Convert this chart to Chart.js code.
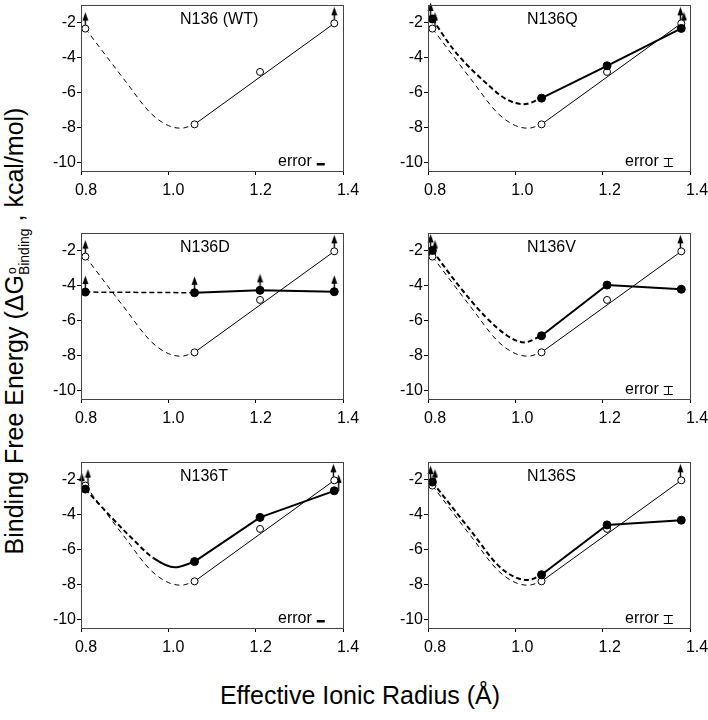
<!DOCTYPE html>
<html>
<head>
<meta charset="utf-8">
<script src="https://cdn.jsdelivr.net/npm/chart.js@4.4.1/dist/chart.umd.min.js"></script>
<style>
  body { margin: 0; width: 708px; height: 720px; position: relative; overflow: hidden; background: #fff;
         font-family: "Liberation Sans", Arial, sans-serif; color: #000; }
  canvas { position: absolute; }
  #ytitle { position: absolute; left: 15px; top: 331px; white-space: nowrap; font-size: 25px;
            transform: translate(-50%, -50%) rotate(-90deg); }
  #ytitle .ss { display: inline-block; vertical-align: -6px; line-height: 12px; font-size: 14px; text-align: left; }
  #ytitle .ss span { display: block; }
  #ytitle .deg { font-size: 12px; padding-left: 1px; }
  #xtitle { position: absolute; left: 360px; top: 695px; white-space: nowrap; font-size: 25px;
            transform: translate(-50%, -50%); }
</style>
</head>
<body>
<div id="ytitle">Binding Free Energy (ΔG<span class="ss"><span class="deg">o</span><span>Binding</span></span> , kcal/mol)</div>
<div id="xtitle">Effective Ionic Radius (Å)</div>
<canvas id="c0" width="335" height="201" style="left:30px;top:0px"></canvas>
<canvas id="c1" width="333" height="201" style="left:375px;top:0px"></canvas>
<canvas id="c2" width="335" height="201" style="left:30px;top:228px"></canvas>
<canvas id="c3" width="333" height="201" style="left:375px;top:228px"></canvas>
<canvas id="c4" width="335" height="201" style="left:30px;top:457px"></canvas>
<canvas id="c5" width="333" height="201" style="left:375px;top:457px"></canvas>
<script>
// ionic radius of the four ions, and axis ticks
const radius = [0.81, 1.06, 1.21, 1.38];
const xTicks = [0.8, 1.0, 1.2, 1.4];
const yTicks = [-10, -8, -6, -4, -2];
const panelTitles = ['N136 (WT)', 'N136Q', 'N136D', 'N136V', 'N136T', 'N136S'];

// wild type (open circles), repeated in every panel
const wtEnergy = [-2.35, -7.83, -4.83, -2.05];
const wtFitX = [1.06, 1.38];
const wtFitY = [-7.83, -2.05];
const wtCurveX = [0.81, 0.9, 0.96, 1.0, 1.03, 1.06];
const wtCurveY = [-2.35, -5.3, -7.2, -7.9, -8.05, -7.83];
const wtArrowX = [0.81, 1.38];
const refArrowX = [0.816, 1.378];
const refArrowY = [-2.35, -2.05];

// mutants (filled circles)
const qEnergy = [-1.8, -6.33, -4.48, -2.34];
const qCurveX = [0.81, 0.86, 0.93, 0.98, 1.02, 1.06];
const qCurveY = [-1.8, -3.6, -5.4, -6.4, -6.68, -6.33];
const qArrowX = [0.806, 1.386];
const qArrowY = [-1.8, -2.34];

const dEnergy = [-4.38, -4.42, -4.28, -4.36];
const dCurveX = [0.81, 1.06];
const dCurveY = [-4.38, -4.42];
const dArrowX = [0.81, 1.06, 1.21, 1.38];

const vEnergy = [-2.0, -6.88, -3.98, -4.22];
const vCurveX = [0.81, 0.87, 0.93, 0.98, 1.02, 1.06];
const vCurveY = [-2.0, -4.0, -5.75, -6.85, -7.26, -6.88];
const vArrowX = [0.806];
const vArrowY = [-2.0];

const tEnergy = [-2.55, -6.7, -4.17, -2.65];
const tCurveX = [0.81, 0.867, 0.92, 0.966, 1.015, 1.06];
const tCurveY = [-2.55, -4.1, -5.45, -6.5, -7.03, -6.7];
const tArrowX = [0.802, 1.39];
const tArrowY = [-2.55, -2.65];

const sEnergy = [-2.15, -7.45, -4.6, -4.33];
const sCurveX = [0.81, 0.9, 0.96, 1.0, 1.03, 1.06];
const sCurveY = [-2.15, -5.0, -6.9, -7.6, -7.75, -7.45];
const sArrowX = [0.806];
const sArrowY = [-2.15];

Chart.defaults.font.family = '"Liberation Sans", Arial, sans-serif';
Chart.defaults.font.size = 16;
Chart.defaults.color = '#000';

function xy(xs, ys) {
  return xs.map((x, i) => ({ x: x, y: ys[i] }));
}

// small upward arrow (lower-limit marker), base at the image centre
function makeArrow() {
  const c = document.createElement('canvas');
  c.width = 7; c.height = 34;
  const g = c.getContext('2d');
  g.strokeStyle = '#000'; g.lineWidth = 1.4;
  g.beginPath(); g.moveTo(3.5, 17); g.lineTo(3.5, 6); g.stroke();
  g.fillStyle = '#000';
  g.beginPath(); g.moveTo(3.5, 0.5); g.lineTo(0.5, 9); g.lineTo(6.5, 9); g.closePath(); g.fill();
  return c;
}
const arrowImg = makeArrow();

const decor = {
  id: 'decor',
  afterDraw(chart, args, opts) {
    const ctx = chart.ctx, a = chart.chartArea;
    ctx.save();
    ctx.strokeStyle = '#444'; ctx.lineWidth = 1;
    ctx.strokeRect(Math.round(a.left) + 0.5, Math.round(a.top) + 0.5,
                   Math.round(a.right - a.left), Math.round(a.bottom - a.top));
    ctx.fillStyle = '#000';
    ctx.font = '16px "Liberation Sans", Arial, sans-serif';
    ctx.textAlign = 'left'; ctx.textBaseline = 'middle';
    ctx.fillText(opts.title, a.left + 99, a.top + 15);
    if (opts.err) {
      const x = a.left + 197, y = a.bottom - 9;
      ctx.fillText('error', x, y);
      const sx = x + ctx.measureText('error').width + 5;
      if (opts.err === 'bar') {
        ctx.fillRect(sx, y + 1, 8, 2.5);
      } else {
        ctx.lineWidth = 1; ctx.strokeStyle = '#000';
        ctx.beginPath();
        ctx.moveTo(sx, Math.round(y - 4) + 0.5); ctx.lineTo(sx + 9, Math.round(y - 4) + 0.5);
        ctx.moveTo(sx, Math.round(y + 4) + 0.5); ctx.lineTo(sx + 9, Math.round(y + 4) + 0.5);
        ctx.moveTo(Math.round(sx + 4) + 0.5, y - 4); ctx.lineTo(Math.round(sx + 4) + 0.5, y + 4);
        ctx.stroke();
      }
    }
    ctx.restore();
  }
};

function buildPanel(id, col, p) {
  const datasets = [
    { data: xy(wtCurveX, wtCurveY), borderColor: '#000', borderWidth: 1, borderDash: [5, 4],
      pointRadius: 0, cubicInterpolationMode: 'monotone', order: 3 },
    { data: xy(wtFitX, wtFitY), borderColor: '#000', borderWidth: 1, pointRadius: 0, order: 3 },
    { data: xy(radius, wtEnergy), showLine: false, pointRadius: 3.5, pointBackgroundColor: '#fff',
      pointBorderColor: '#000', pointBorderWidth: 1, order: 1 },
    { data: xy(p.refArrowX, refArrowY), showLine: false, pointStyle: arrowImg, clip: false, order: 5 }
  ];
  if (p.energy) {
    const solidFrom = p.solidFrom;
    datasets.push(
      { data: xy(p.curveX, p.curveY), borderColor: '#000', borderWidth: p.curveWidth || 2,
        borderDash: [5, 3], pointRadius: 0, cubicInterpolationMode: 'monotone', order: 2,
        segment: { borderDash: ctx => (solidFrom && ctx.p0.parsed.x >= solidFrom) ? [] : [5, 3] } },
      { data: xy(radius.slice(1), p.energy.slice(1)), borderColor: '#000', borderWidth: 2,
        pointRadius: 0, order: 2 },
      { data: xy(radius, p.energy), showLine: false, pointRadius: 4, pointBackgroundColor: '#000',
        pointBorderColor: '#000', pointBorderWidth: 1, order: 0 },
      { data: xy(p.arrowX, p.arrowY), showLine: false, pointStyle: arrowImg, clip: false, order: 5 }
    );
  }
  const gridOpts = { display: true, drawOnChartArea: false, drawTicks: true, tickLength: 4, color: '#000' };
  const noPad = s => { s.paddingTop = 0; s.paddingBottom = 0; s.paddingLeft = 0; s.paddingRight = 0; };
  new Chart(document.getElementById(id), {
    type: 'line',
    data: { datasets: datasets },
    options: {
      responsive: false,
      animation: false,
      events: [],
      devicePixelRatio: 1,
      layout: { padding: { top: 3, right: col.padRight, left: 0, bottom: 0 } },
      plugins: { legend: { display: false }, tooltip: { enabled: false },
                 decor: { title: p.title, err: p.err } },
      scales: {
        x: {
          type: 'linear', min: 0.8, max: 1.4,
          afterBuildTicks: s => { s.ticks = xTicks.map(v => ({ value: v })); },
          afterFit: s => { s.height = 30; noPad(s); },
          ticks: { callback: v => v.toFixed(1), labelOffset: col.labelOffset, padding: 6,
                   maxRotation: 0, autoSkip: false },
          grid: gridOpts,
          border: { display: true, color: '#000', width: 1 }
        },
        y: {
          type: 'linear', min: -10.5, max: -1,
          afterBuildTicks: s => { s.ticks = yTicks.map(v => ({ value: v })); },
          afterFit: s => { s.width = col.yWidth; noPad(s); },
          ticks: { callback: v => String(v), padding: 1 },
          grid: gridOpts,
          border: { display: true, color: '#000', width: 1 }
        }
      }
    },
    plugins: [decor]
  });
}

const leftCol = { yWidth: 51, padRight: 22, labelOffset: 5 };
const rightCol = { yWidth: 53, padRight: 18, labelOffset: 7 };

buildPanel('c0', leftCol, { title: panelTitles[0], err: 'bar', refArrowX: wtArrowX });
buildPanel('c1', rightCol, { title: panelTitles[1], err: 'ibeam', refArrowX: refArrowX,
  energy: qEnergy, curveX: qCurveX, curveY: qCurveY, arrowX: qArrowX, arrowY: qArrowY });
buildPanel('c2', leftCol, { title: panelTitles[2], err: null, refArrowX: wtArrowX,
  energy: dEnergy, curveX: dCurveX, curveY: dCurveY, curveWidth: 1.5, arrowX: dArrowX, arrowY: dEnergy });
buildPanel('c3', rightCol, { title: panelTitles[3], err: 'ibeam', refArrowX: refArrowX,
  energy: vEnergy, curveX: vCurveX, curveY: vCurveY, arrowX: vArrowX, arrowY: vArrowY });
buildPanel('c4', leftCol, { title: panelTitles[4], err: 'bar', refArrowX: refArrowX,
  energy: tEnergy, curveX: tCurveX, curveY: tCurveY, solidFrom: 0.96, arrowX: tArrowX, arrowY: tArrowY });
buildPanel('c5', rightCol, { title: panelTitles[5], err: 'ibeam', refArrowX: refArrowX,
  energy: sEnergy, curveX: sCurveX, curveY: sCurveY, arrowX: sArrowX, arrowY: sArrowY });
</script>
</body>
</html>
